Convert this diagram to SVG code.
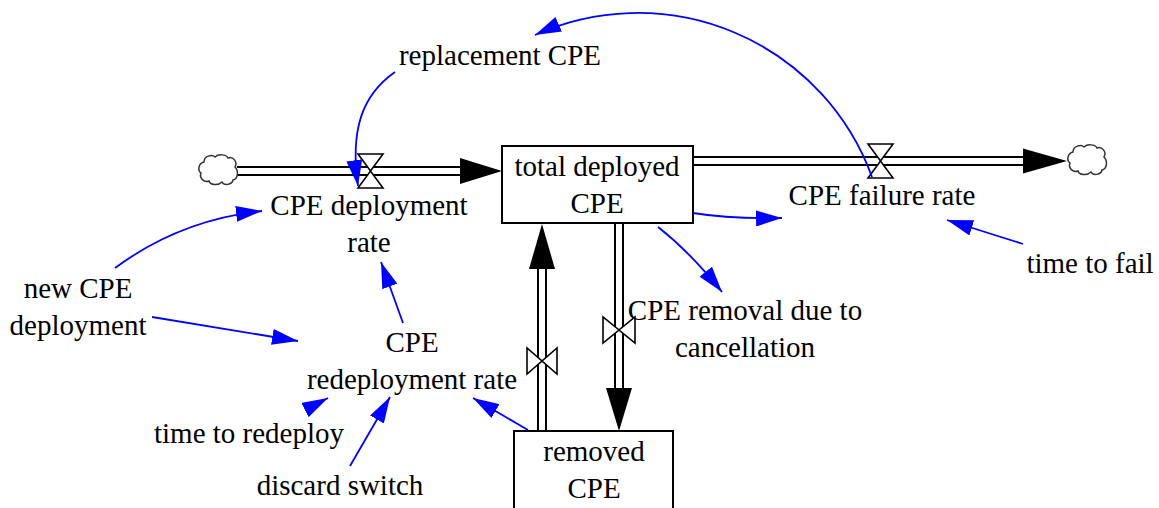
<svg xmlns="http://www.w3.org/2000/svg" width="1159" height="508" viewBox="0 0 1159 508">
<style>
text{font-family:"Liberation Serif","Times New Roman",serif;font-size:29px;fill:#000;text-anchor:middle}
.box{fill:#fff;stroke:#000;stroke-width:2}
.pipeo{fill:none;stroke:#000;stroke-width:10}
.pipei{fill:none;stroke:#fff;stroke-width:6}
.valve{fill:#fff;stroke:#000;stroke-width:1.6;stroke-linejoin:miter}
.head{fill:#000}
.link{fill:none;stroke:#0000ff;stroke-width:1.8;marker-end:url(#ah)}
.cloud{fill:#fff;stroke:#333;stroke-width:1.5}
</style>
<defs>
<marker id="ah" markerUnits="userSpaceOnUse" viewBox="0 0 26 16" refX="26" refY="8" markerWidth="26" markerHeight="16" orient="auto">
<path d="M0,0 L26,8 L0,16 Z" fill="#0000ff"/>
</marker>
<path id="cloudshape" d="M6,8 C6,2 14,0 17,3 C20,0 28,0 30,4 C35,2 40,8 37,13 C41,17 40,25 35,26 C34,31 26,32 24,28 C20,32 12,31 11,27 C6,29 1,24 3,19 C-1,16 1,9 6,8 Z"/>
</defs>

<g id="flows">
<path class="pipeo" d="M237,171 H462"/>
<path class="pipei" d="M236,171 H463"/>
<path class="pipeo" d="M693,161 H1025"/>
<path class="pipei" d="M692,161 H1026"/>
<path class="pipeo" d="M542,431 V267"/>
<path class="pipei" d="M542,432 V266"/>
<path class="pipeo" d="M619,223 V390"/>
<path class="pipei" d="M619,222 V391"/>
<polygon class="head" points="460,158 502,171 460,184"/>
<polygon class="head" points="1023,148.5 1067,161 1023,173.5"/>
<polygon class="head" points="529,269 542,224 555,269"/>
<polygon class="head" points="606,388 619,431 632,388"/>
</g>

<g id="cloud-left"><use href="#cloudshape" class="cloud" transform="translate(198,154)"/></g>
<g id="cloud-right"><use href="#cloudshape" class="cloud" transform="translate(1067,144)"/></g>

<g id="total-deployed-CPE">
<rect class="box" x="502" y="146" width="191" height="77"/>
<text x="597" y="176">total deployed</text>
<text x="597" y="213">CPE</text>
</g>

<g id="removed-CPE">
<rect class="box" x="514" y="431" width="159" height="85"/>
<text x="594" y="461">removed</text>
<text x="594" y="498">CPE</text>
</g>

<g id="CPE-deployment-rate">
<polygon class="valve" points="358,154 383,154 370.5,171"/>
<polygon class="valve" points="358,188 383,188 370.5,171"/>
<text x="369" y="215">CPE deployment</text>
<text x="369" y="252">rate</text>
</g>

<g id="CPE-failure-rate">
<polygon class="valve" points="868,144 893,144 880.5,161"/>
<polygon class="valve" points="868,178 893,178 880.5,161"/>
<text x="882" y="205">CPE failure rate</text>
</g>

<g id="CPE-redeployment-valve">
<polygon class="valve" points="527,348 527,374 542,361"/>
<polygon class="valve" points="557,348 557,374 542,361"/>
</g>

<g id="CPE-removal-due-to-cancellation">
<polygon class="valve" points="603,317 603,343 619,330"/>
<polygon class="valve" points="635,317 635,343 619,330"/>
<text x="745" y="320">CPE removal due to</text>
<text x="745" y="357">cancellation</text>
</g>

<g id="CPE-redeployment-rate">
<text x="412" y="352">CPE</text>
<text x="412" y="389">redeployment rate</text>
</g>

<g id="replacement-CPE"><text x="500" y="65">replacement CPE</text></g>
<g id="new-CPE-deployment">
<text x="78" y="298">new CPE</text>
<text x="78" y="335">deployment</text>
</g>
<g id="time-to-redeploy"><text x="249" y="443">time to redeploy</text></g>
<g id="discard-switch"><text x="340" y="495">discard switch</text></g>
<g id="time-to-fail"><text x="1090" y="273">time to fail</text></g>

<g id="connectors">
<path class="link" d="M872,177 A249.5,249.5 0 0,0 535,35"/>
<path class="link" d="M395,72 C362,95 350,130 358,186"/>
<path class="link" d="M115,268 Q180,220 262,211"/>
<path class="link" d="M152,317 L298,341"/>
<path class="link" d="M403,323 L381,262"/>
<path class="link" d="M305,410 L328,398"/>
<path class="link" d="M350,466 L390,397"/>
<path class="link" d="M528,430 L473,398"/>
<path class="link" d="M693,213 Q730,219 782,218"/>
<path class="link" d="M658,227 Q690,252 722,292"/>
<path class="link" d="M1023,244 L947,220"/>
</g>
</svg>
